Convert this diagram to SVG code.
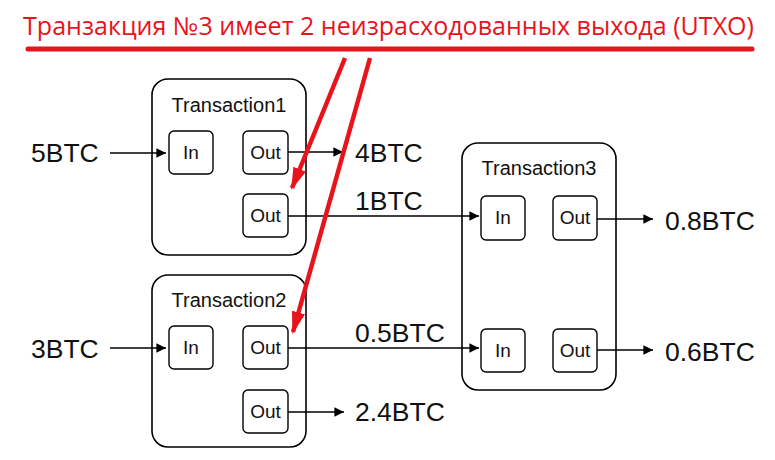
<svg xmlns="http://www.w3.org/2000/svg" width="775" height="460" viewBox="0 0 775 460">
<defs>
<style>
.tx{fill:#fff;stroke:#000;stroke-width:1.6}
.pt{fill:#fff;stroke:#000;stroke-width:1.4}
.ttl{font-family:"Liberation Sans",Arial,sans-serif;font-size:20px;fill:#111;text-anchor:middle}
.io{font-family:"Liberation Sans",Arial,sans-serif;font-size:19px;fill:#111;text-anchor:middle}
.amt{font-family:"Liberation Sans",Arial,sans-serif;font-size:26.5px;fill:#111}
.cn{stroke:#000;stroke-width:1.6;fill:none;marker-end:url(#ah)}
.red{stroke:#e8141c;stroke-width:4.5;fill:none;marker-end:url(#rh)}
</style>
<marker id="ah" viewBox="0 0 10 10" refX="10" refY="5" markerWidth="6" markerHeight="6" markerUnits="strokeWidth" orient="auto">
<path d="M0,0 L10,5 L0,10 z" fill="#000"/>
</marker>
<marker id="rh" viewBox="0 0 20 12" refX="18" refY="6" markerWidth="5" markerHeight="3.2" markerUnits="strokeWidth" orient="auto">
<path d="M0,0 L20,6 L0,12 z" fill="#e8141c"/>
</marker>
</defs>
<rect width="775" height="460" fill="#fff"/>

<g id="title">
<text x="23" y="35" font-family="'Open Sans','Liberation Sans',sans-serif" font-size="25" fill="#e8141c" textLength="731" lengthAdjust="spacingAndGlyphs">Транзакция №3 имеет 2 неизрасходованных выхода (UTXO)</text>
<line x1="28" y1="49" x2="752" y2="49" stroke="#e8141c" stroke-width="5" stroke-linecap="round"/>
</g>

<g id="tx1">
<rect class="tx" x="152" y="79" width="154" height="176" rx="16"/>
<text class="ttl" x="229" y="112">Transaction1</text>
<rect class="pt" x="169" y="131" width="44" height="43" rx="5"/>
<text class="io" x="191" y="159">In</text>
<rect class="pt" x="243" y="131" width="45" height="43" rx="5"/>
<text class="io" x="265.5" y="159">Out</text>
<rect class="pt" x="243" y="194" width="45" height="43" rx="5"/>
<text class="io" x="265.5" y="222">Out</text>
</g>

<g id="tx2">
<rect class="tx" x="152" y="275" width="154" height="172" rx="16"/>
<text class="ttl" x="229" y="307">Transaction2</text>
<rect class="pt" x="169" y="326" width="44" height="43" rx="5"/>
<text class="io" x="191" y="354">In</text>
<rect class="pt" x="243" y="326" width="45" height="43" rx="5"/>
<text class="io" x="265.5" y="354">Out</text>
<rect class="pt" x="243" y="390" width="45" height="43" rx="5"/>
<text class="io" x="265.5" y="418">Out</text>
</g>

<g id="tx3">
<rect class="tx" x="462" y="143" width="154" height="247" rx="16"/>
<text class="ttl" x="539" y="175">Transaction3</text>
<rect class="pt" x="481" y="196" width="44" height="44" rx="5"/>
<text class="io" x="503" y="224">In</text>
<rect class="pt" x="553" y="196" width="44" height="44" rx="5"/>
<text class="io" x="575" y="224">Out</text>
<rect class="pt" x="481" y="329" width="44" height="43" rx="5"/>
<text class="io" x="503" y="357">In</text>
<rect class="pt" x="553" y="329" width="44" height="43" rx="5"/>
<text class="io" x="575" y="357">Out</text>
</g>

<g id="labels">
<text class="amt" x="31" y="162">5BTC</text>
<text class="amt" x="31" y="358">3BTC</text>
<text class="amt" x="355" y="162">4BTC</text>
<text class="amt" x="355" y="210">1BTC</text>
<text class="amt" x="355" y="342">0.5BTC</text>
<text class="amt" x="355" y="421">2.4BTC</text>
<text class="amt" x="665" y="230">0.8BTC</text>
<text class="amt" x="665" y="361">0.6BTC</text>
</g>

<g id="connectors">
<line class="cn" x1="110" y1="153" x2="166" y2="153"/>
<line class="cn" x1="110" y1="348" x2="166" y2="348"/>
<line class="cn" x1="288" y1="152" x2="343" y2="152"/>
<line class="cn" x1="288" y1="216" x2="479" y2="216"/>
<line class="cn" x1="288" y1="348" x2="479" y2="348"/>
<line class="cn" x1="288" y1="412" x2="344" y2="412"/>
<line class="cn" x1="597" y1="219" x2="653" y2="219"/>
<line class="cn" x1="597" y1="350" x2="653" y2="350"/>
<line class="red" x1="345" y1="58" x2="292" y2="188"/>
<line class="red" x1="370" y1="58" x2="293" y2="332"/>
</g>
</svg>
